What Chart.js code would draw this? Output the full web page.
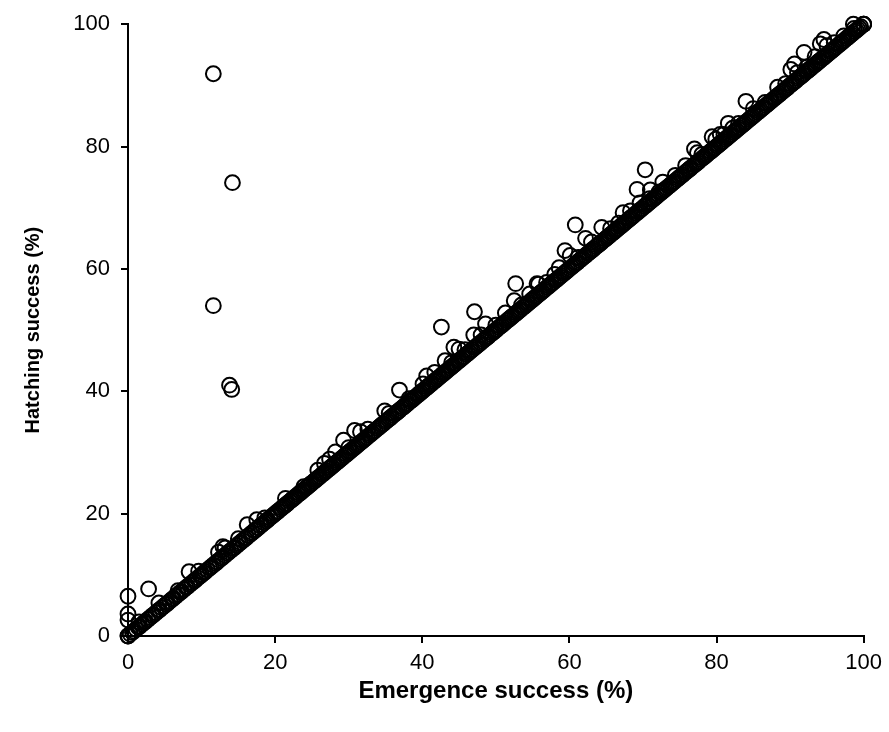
<!DOCTYPE html>
<html>
<head>
<meta charset="utf-8">
<script src="https://cdn.jsdelivr.net/npm/chart.js@4.4.1/dist/chart.umd.min.js"></script>
<style>
  html, body { margin: 0; padding: 0; background: #fff; }
  #chart { display: block; }
</style>
</head>
<body>
<canvas id="chart" width="889" height="732"></canvas>
<script>
// ──────────────── 数据 ────────────────
// nests where hatching success equals emergence success (points on the diagonal)
const equalNests = [
  0, 0, 0.3, 0.6, 0.8, 1.1, 1.4, 1.6, 1.9, 2.2, 2.4, 2.7, 3.0, 3.3, 3.5, 3.8, 4.1, 4.3, 4.6, 4.9, 5.2, 5.4, 5.7, 6.0, 6.2, 6.5, 6.8, 7.1, 7.3, 7.6, 7.9, 8.1, 8.4, 8.7, 9.0, 9.2, 9.5, 9.8,
  10.0, 10.3, 10.5, 10.8, 11.1, 11.3, 11.6, 11.9, 12.1, 12.4, 12.7, 12.9, 13.2, 13.5, 13.7, 14.0, 14.3, 14.5, 14.8, 15.1, 15.3, 15.6, 15.9, 16.1, 16.4, 16.7, 16.9, 17.2, 17.4, 17.7, 18.0, 18.2, 18.5, 18.8, 19.0, 19.3, 19.6, 19.8,
  20.0, 20.2, 20.4, 20.7, 20.9, 21.1, 21.3, 21.5, 21.7, 22.0, 22.2, 22.4, 22.6, 22.8, 23.1, 23.3, 23.5, 23.7, 23.9, 24.2, 24.4, 24.6, 24.8, 25.0, 25.3, 25.5, 25.7, 25.9, 26.1, 26.4, 26.6, 26.8, 27.0, 27.3, 27.5, 27.7, 27.9, 28.1, 28.4, 28.6, 28.8, 29.0, 29.2, 29.5, 29.7, 29.9,
  30.1, 30.3, 30.6, 30.8, 31.0, 31.2, 31.4, 31.7, 31.9, 32.1, 32.3, 32.5, 32.8, 33.0, 33.2, 33.4, 33.6, 33.9, 34.1, 34.3, 34.5, 34.7, 35.0, 35.2, 35.4, 35.6, 35.8, 36.1, 36.3, 36.5, 36.7, 36.9, 37.2, 37.4, 37.6, 37.8, 38.0, 38.3, 38.5, 38.7, 38.9, 39.1, 39.4, 39.6, 39.8,
  40.0, 40.2, 40.5, 40.7, 40.9, 41.1, 41.3, 41.6, 41.8, 42.0, 42.2, 42.4, 42.7, 42.9, 43.1, 43.3, 43.5, 43.8, 44.0, 44.2, 44.4, 44.6, 44.9, 45.1, 45.3, 45.5, 45.7, 46.0, 46.2, 46.4, 46.6, 46.8, 47.1, 47.3, 47.5, 47.7, 47.9, 48.2, 48.4, 48.6, 48.8, 49.0, 49.3, 49.5, 49.7, 49.9,
  50.1, 50.4, 50.6, 50.8, 51.0, 51.2, 51.5, 51.7, 51.9, 52.1, 52.3, 52.6, 52.8, 53.0, 53.2, 53.4, 53.7, 53.9, 54.1, 54.3, 54.5, 54.8, 55.0, 55.2, 55.4, 55.6, 55.9, 56.1, 56.3, 56.5, 56.7, 57.0, 57.2, 57.4, 57.6, 57.8, 58.1, 58.3, 58.5, 58.7, 58.9, 59.2, 59.4, 59.6, 59.8,
  60.0, 60.3, 60.5, 60.7, 60.9, 61.1, 61.4, 61.6, 61.8, 62.0, 62.2, 62.5, 62.7, 62.9, 63.1, 63.3, 63.6, 63.8, 64.0, 64.2, 64.4, 64.7, 64.9, 65.1, 65.3, 65.5, 65.8, 66.0, 66.2, 66.4, 66.6, 66.9, 67.1, 67.3, 67.5, 67.7, 68.0, 68.2, 68.4, 68.6, 68.8, 69.1, 69.3, 69.5, 69.7, 69.9,
  70.2, 70.4, 70.6, 70.8, 71.0, 71.3, 71.5, 71.7, 71.9, 72.1, 72.4, 72.6, 72.8, 73.0, 73.2, 73.5, 73.7, 73.9, 74.1, 74.3, 74.6, 74.8, 75.0, 75.2, 75.4, 75.7, 75.9, 76.1, 76.3, 76.5, 76.8, 77.0, 77.2, 77.4, 77.6, 77.9, 78.1, 78.3, 78.5, 78.7, 79.0, 79.2, 79.4, 79.6, 79.8,
  80.1, 80.3, 80.5, 80.7, 80.9, 81.2, 81.4, 81.6, 81.8, 82.0, 82.3, 82.5, 82.7, 82.9, 83.1, 83.4, 83.6, 83.8, 84.0, 84.2, 84.5, 84.7, 84.9, 85.1, 85.3, 85.6, 85.8, 86.0, 86.2, 86.4, 86.7, 86.9, 87.1, 87.3, 87.5, 87.8, 88.0, 88.2, 88.4, 88.6, 88.9, 89.1, 89.3, 89.5, 89.7,
  90.0, 90.2, 90.4, 90.6, 90.8, 91.1, 91.3, 91.5, 91.7, 91.9, 92.2, 92.4, 92.6, 92.8, 93.0, 93.3, 93.5, 93.7, 93.9, 94.1, 94.4, 94.6, 94.8, 95.0, 95.2, 95.5, 95.7, 95.9, 96.1, 96.3, 96.6, 96.8, 97.0, 97.2, 97.4, 97.7, 97.9, 98.1, 98.3, 98.5, 98.8, 99.0, 99.2, 99.4, 99.6, 100, 100
];

// nests where hatching success is above emergence success
const emergence = [
  11.6, 14.2, 11.6, 13.8, 14.1,
  0, 0, 0, 2.8, 8.3, 12.9, 13.2, 16.2, 17.5,
  26.7, 28.2, 29.3, 30.8, 31.6, 34.9, 36.9, 40.6, 42.6, 43.1, 44.3, 45.0, 47.1, 47.0, 48.6,
  52.5, 52.7, 55.6, 55.8, 58.6, 59.4, 60.1, 60.8, 62.2, 64.4, 67.3, 69.2, 70.3, 71.0, 69.6, 72.2,
  77.0, 77.4, 79.4, 80.5, 81.6, 82.2, 84.0, 90.1, 90.6, 91.9, 94.1, 94.6, 95.0, 98.6, 100,
  1.5, 4.2, 6.8, 9.6, 12.3, 15.0, 18.6, 21.4, 23.9, 25.8, 27.4, 30.0, 32.6, 35.5, 38.2, 40.1, 41.7,
  44.0, 45.8, 48.0, 50.0, 51.3, 53.5, 54.6, 56.9, 58.0, 61.2, 63.0, 65.6, 66.7, 68.3, 70.9, 72.7,
  74.4, 75.8, 78.0, 79.9, 81.0, 83.0, 85.0, 86.6, 88.3, 89.4, 91.0, 92.3, 93.4, 96.0, 97.3, 98.7
];
const hatching = [
  91.9, 74.1, 54.0, 41.0, 40.3,
  6.5, 3.6, 2.6, 7.7, 10.5, 14.6, 14.4, 18.2, 19.0,
  28.2, 30.1, 32.0, 33.6, 33.4, 36.8, 40.2, 42.5, 50.5, 45.0, 47.2, 46.9, 53.0, 49.2, 51.0,
  54.8, 57.6, 57.6, 57.5, 60.2, 63.0, 62.2, 67.2, 65.0, 66.8, 69.2, 73.0, 76.2, 72.9, 70.8, 72.6,
  79.6, 79.0, 81.6, 82.0, 83.8, 83.0, 87.4, 92.6, 93.5, 95.4, 96.8, 97.5, 96.5, 100, 100,
  2.3, 5.4, 7.4, 10.6, 13.7, 15.9, 19.3, 22.5, 24.4, 27.1, 28.9, 30.8, 33.8, 36.4, 38.8, 41.2, 43.1,
  44.7, 46.8, 49.2, 50.8, 52.8, 54.1, 55.9, 57.8, 59.1, 61.9, 64.4, 66.6, 67.5, 69.5, 71.5, 74.2,
  75.3, 76.9, 78.7, 81.2, 82.0, 83.8, 86.2, 87.2, 89.7, 90.3, 92.1, 93.0, 94.7, 97.0, 98.1, 99.3
];

const tickValues = [0, 20, 40, 60, 80, 100];

// ──────────────── 图表 ────────────────
const points = equalNests.map(v => ({ x: v, y: v }))
  .concat(emergence.map((e, i) => ({ x: e, y: hatching[i] })));

const FONT = 'Liberation Sans, Arial, Helvetica, sans-serif';

function axis(title, titleFont, titlePadding, tickPadding) {
  return {
    type: 'linear',
    min: 0,
    max: 100,
    afterBuildTicks: s => { s.ticks = tickValues.map(v => ({ value: v })); },
    border: { display: true, color: '#000', width: 2 },
    grid: { drawOnChartArea: false, drawTicks: true, tickLength: 7, color: '#000', lineWidth: 2 },
    ticks: { color: '#000', font: { family: FONT, size: 22 }, padding: tickPadding },
    title: { display: true, text: title, color: '#000', font: Object.assign({ family: FONT, weight: 'bold' }, titleFont), padding: titlePadding }
  };
}

const xAxis = axis('Emergence success (%)', { size: 24 }, { top: 0, bottom: 26 }, 7);
xAxis.afterFit = s => { s.height = 96; };
const yAxis = axis('Hatching success (%)', { size: 20 }, { top: 21, bottom: 0 }, 11);
yAxis.afterFit = s => { s.width = 128; };

new Chart(document.getElementById('chart'), {
  type: 'scatter',
  data: {
    datasets: [{
      data: points,
      pointStyle: 'circle',
      pointRadius: 7.4,
      pointHoverRadius: 7.4,
      borderWidth: 2,
      borderColor: '#000',
      backgroundColor: 'rgba(0,0,0,0)',
      clip: false
    }]
  },
  options: {
    responsive: false,
    animation: false,
    devicePixelRatio: 1,
    layout: { padding: { left: 0, top: 21, right: 24, bottom: 0 } },
    plugins: { legend: { display: false }, tooltip: { enabled: false } },
    scales: { x: xAxis, y: yAxis }
  }
});
</script>
</body>
</html>
